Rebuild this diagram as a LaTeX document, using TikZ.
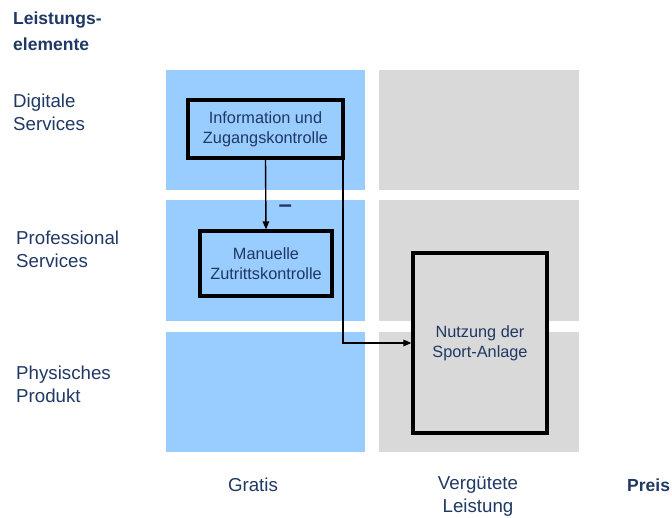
\documentclass[tikz,border=0pt]{standalone}
\usepackage{fontspec}
\setmainfont{Liberation Sans}
\usetikzlibrary{arrows.meta}
\definecolor{cellblue}{RGB}{153,204,255}
\definecolor{cellgrey}{RGB}{217,217,217}
\definecolor{navy}{RGB}{31,56,100}
\tikzset{
  procbox/.style={draw=black, line width=3.2pt, minimum width=#1, text=navy,
    align=center, font=\fontsize{16.3}{20}\selectfont, inner sep=0pt},
  rowlabel/.style={anchor=west, align=left, inner sep=0pt, text=navy,
    font=\fontsize{18.7}{23}\selectfont},
  collabel/.style={align=center, inner sep=0pt, text=navy,
    font=\fontsize{18.7}{23}\selectfont},
  axislabel/.style={inner sep=0pt, text=navy, align=left,
    font=\fontsize{17.5}{26}\selectfont\bfseries},
  flow/.style={draw=black, line width=1.4pt, -{Triangle[length=8pt,width=6.5pt]}}
}
\begin{document}
\begin{tikzpicture}[x=1pt,y=-1pt]
\useasboundingbox (0,0) rectangle (672,518);
% matrix cells: Gratis column (blue) and paid column (grey)
\fill[cellblue] (166,70) rectangle (365,190);
\fill[cellblue] (166,200) rectangle (365,321);
\fill[cellblue] (166,332) rectangle (365,452);
\fill[cellgrey] (379,70) rectangle (579,190);
\fill[cellgrey] (379,200) rectangle (579,321);
\fill[cellgrey] (379,332) rectangle (579,452);

% service boxes
\node[procbox=155pt, minimum height=58pt, fill=cellblue] (info) at (265.5,129)
  {Information und\\Zugangskontrolle};
\node[procbox=132pt, minimum height=65pt, fill=cellblue] (man) at (266,263.5)
  {Manuelle\\Zutrittskontrolle};
\node[procbox=134pt, minimum height=180pt, fill=cellgrey] (nutz) at (480,343)
  {Nutzung der\\Sport-Anlage};

% connectors
\draw[flow] (info.south) -- (man.north)
  node[pos=0.7, right=12pt, text=navy, font=\fontsize{24}{24}\selectfont\bfseries, inner sep=0pt] (minus) {–};
\draw[flow] ([xshift=-1.6pt]info.south east) |- (nutz.west);

% axis and row labels
\node[axislabel, anchor=west] (yaxis) at (13,31) {Leistungs-\\elemente};
\node[rowlabel] (digi) at (13,112) {Digitale\\Services};
\node[rowlabel] (prof) at (16,249) {Professional\\Services};
\node[rowlabel] (phys) at (16,384) {Physisches\\Produkt};

% column labels
\node[collabel] (gratis) at (253,485) {Gratis};
\node[collabel] (verg) at (478,496.5) {Vergütete\\Leistung};
\node[axislabel, anchor=west] (preis) at (627,485) {Preis};
\end{tikzpicture}
\end{document}
